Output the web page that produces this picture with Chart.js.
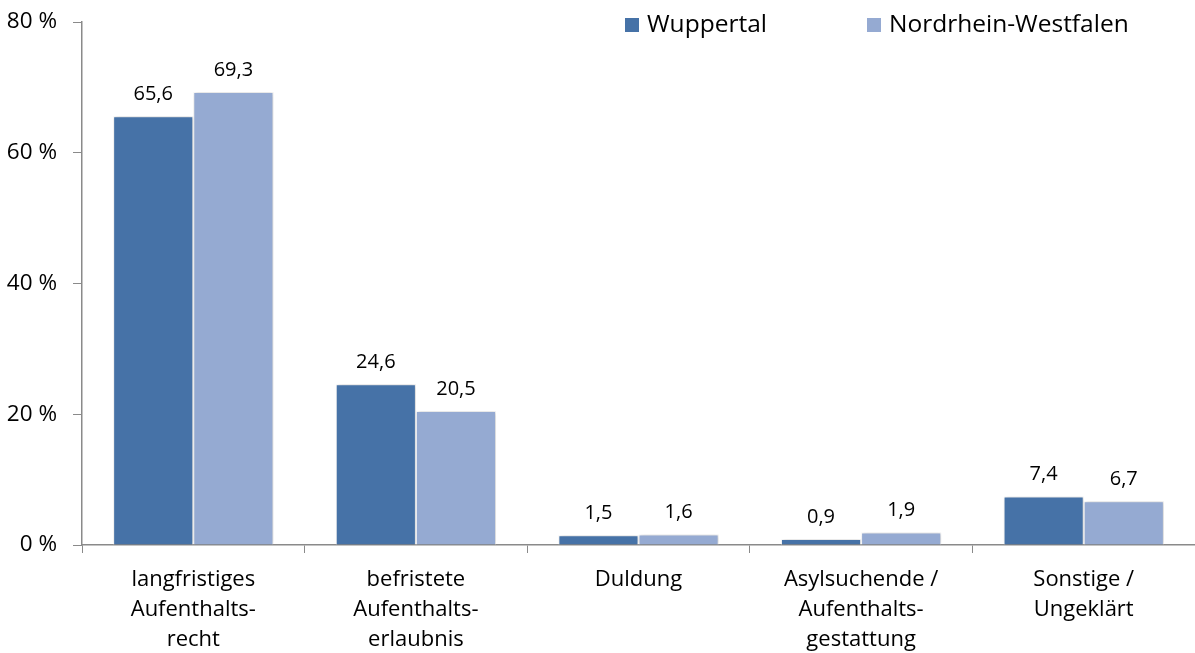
<!DOCTYPE html>
<html>
<head>
<meta charset="utf-8">
<script src="https://cdn.jsdelivr.net/npm/chart.js@4.4.1/dist/chart.umd.min.js"></script>
<style>
  html, body { margin: 0; padding: 0; background: #fff; }
  #wrap { width: 1195px; height: 653px; position: relative; }
</style>
</head>
<body>
<div id="wrap"><canvas id="chart"></canvas></div>
<script>
// ============================================================
// Aufenthaltsstatus: Wuppertal vs. NRW (Anteile in %)
// ============================================================

const categories = [
  ['langfristiges', 'Aufenthalts-', 'recht'],
  ['befristete', 'Aufenthalts-', 'erlaubnis'],
  ['Duldung'],
  ['Asylsuchende /', 'Aufenthalts-', 'gestattung'],
  ['Sonstige /', 'Ungeklärt'],
];
const wuppertal = [65.6, 24.6, 1.5, 0.9, 7.4];
const nrw = [69.3, 20.5, 1.6, 1.9, 6.7];
const yTicks = [0, 20, 40, 60, 80];

const FONT = '"Open Sans", "Noto Sans", sans-serif';
const COL_W = '#4672A7';
const COL_N = '#95AAD2';
const AXIS = '#8a8a8a';

const fmt = v => v.toFixed(1).replace('.', ',');

// bar values above each bar
const valueLabels = {
  id: 'valueLabels',
  afterDatasetsDraw(chart) {
    const ctx = chart.ctx;
    ctx.save();
    ctx.font = '20px ' + FONT;
    ctx.fillStyle = '#000';
    ctx.textAlign = 'center';
    ctx.textBaseline = 'bottom';
    chart.data.datasets.forEach((ds, i) => {
      chart.getDatasetMeta(i).data.forEach((bar, j) => {
        ctx.fillText(fmt(ds.data[j]), bar.x, bar.y - 12);
      });
    });
    ctx.restore();
  }
};

// soft shadow behind bars
const barShadow = {
  id: 'barShadow',
  beforeDatasetsDraw(chart) {
    const ctx = chart.ctx;
    ctx.save();
    ctx.shadowColor = 'rgba(0,0,0,0.22)';
    ctx.shadowBlur = 4;
    ctx.shadowOffsetX = 1;
    ctx.shadowOffsetY = 0;
  },
  afterDatasetsDraw(chart) {
    chart.ctx.restore();
  }
};

// legend drawn inside the plot, top right
const topLegend = {
  id: 'topLegend',
  afterDraw(chart) {
    const ctx = chart.ctx;
    ctx.save();
    ctx.font = '24.5px ' + FONT;
    ctx.textBaseline = 'middle';
    const items = [
      { x: 625, ds: chart.data.datasets[0] },
      { x: 867, ds: chart.data.datasets[1] },
    ];
    items.forEach(it => {
      ctx.fillStyle = it.ds.backgroundColor;
      ctx.fillRect(it.x, 18, 14, 14);
      ctx.fillStyle = '#000';
      ctx.fillText(it.ds.label, it.x + 22, 25);
    });
    ctx.restore();
  }
};

new Chart(document.getElementById('chart'), {
  type: 'bar',
  data: {
    labels: categories,
    datasets: [
      {
        label: 'Wuppertal',
        data: wuppertal,
        backgroundColor: COL_W,
        borderColor: '#fff',
        borderWidth: 1,
        borderSkipped: 'bottom',
        categoryPercentage: 0.72,
        barPercentage: 1.0,
      },
      {
        label: 'Nordrhein-Westfalen',
        data: nrw,
        backgroundColor: COL_N,
        borderColor: '#fff',
        borderWidth: 1,
        borderSkipped: 'bottom',
        categoryPercentage: 0.72,
        barPercentage: 1.0,
      }
    ]
  },
  options: {
    responsive: true,
    maintainAspectRatio: false,
    animation: false,
    layout: { padding: { top: 22, right: 0, left: 0, bottom: 0 } },
    plugins: {
      legend: { display: false },
      tooltip: { enabled: false },
    },
    scales: {
      x: {
        offset: true,
        grid: {
          display: true,
          drawOnChartArea: false,
          drawTicks: true,
          tickLength: 8,
          color: AXIS,
          offset: true,
        },
        border: { color: AXIS, width: 1.5 },
        ticks: {
          color: '#000',
          font: { family: FONT, size: 22, lineHeight: 1.36 },
          padding: 12,
          maxRotation: 0,
          autoSkip: false,
        },
        afterFit: axis => { axis.height = 108; },
      },
      y: {
        min: 0,
        max: 80,
        afterBuildTicks: axis => { axis.ticks = yTicks.map(v => ({ value: v })); },
        grid: {
          display: true,
          drawOnChartArea: false,
          drawTicks: true,
          tickLength: 9,
          color: AXIS,
        },
        border: { color: AXIS, width: 1.5 },
        ticks: {
          color: '#000',
          font: { family: FONT, size: 22.5 },
          padding: 16,
          callback: v => v + ' %',
        },
        afterFit: axis => {
          axis.width = 82;
          axis.paddingTop = 0;
          axis.paddingBottom = 0;
        },
      }
    }
  },
  plugins: [barShadow, valueLabels, topLegend]
});
</script>
</body>
</html>
